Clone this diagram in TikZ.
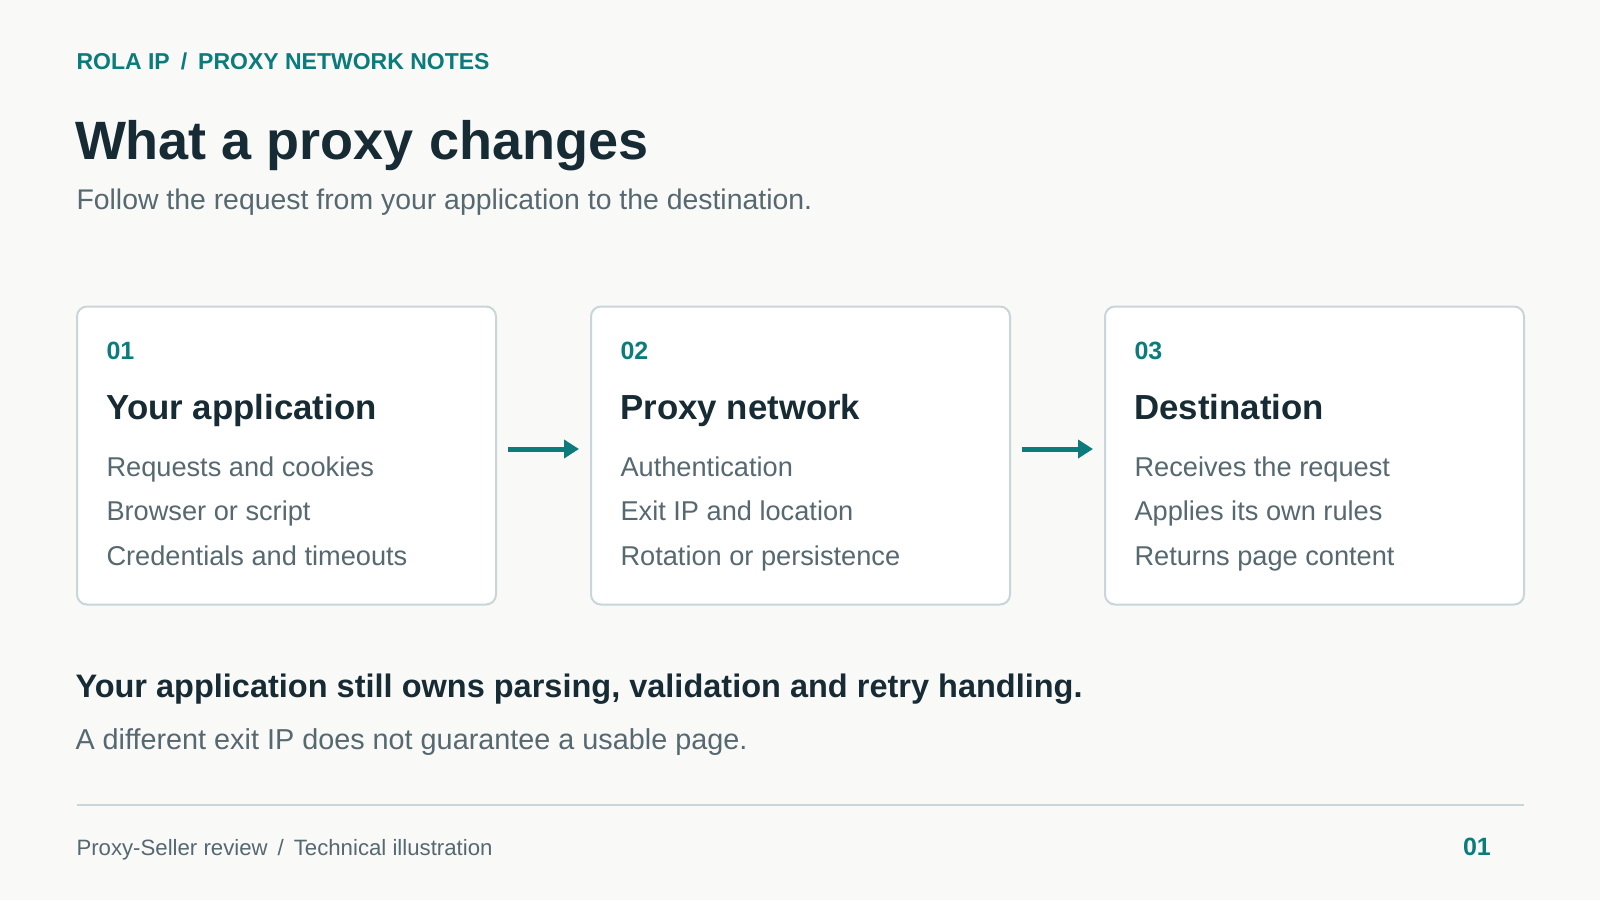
\documentclass[tikz,border=0pt]{standalone}
\usepackage{fontspec}
\setmainfont{Liberation Sans}
\usetikzlibrary{arrows.meta}
\definecolor{bgc}{HTML}{F9F9F7}
\definecolor{teal}{HTML}{0B7B7B}
\definecolor{ink}{HTML}{172B34}
\definecolor{muted}{HTML}{566870}
\definecolor{rule}{HTML}{C9D6D9}
\newcommand{\fs}[1]{\fontsize{#1}{#1}\selectfont}
\tikzset{
  txt/.style={anchor=base west, inner sep=0pt, outer sep=0pt},
  card/.style={draw=rule, line width=2pt, fill=white, rounded corners=10pt,
    minimum width=419pt, minimum height=298pt, inner sep=0pt},
  num/.style={txt, text=teal, font=\fs{25}\bfseries},
  head/.style={txt, text=ink, font=\fs{34.8}\bfseries},
  item/.style={txt, text=muted, font=\fs{27.2}},
  flow/.style={draw=teal, line width=5pt, -{Triangle[length=15pt,width=18pt]}},
}
\begin{document}
\begin{tikzpicture}[x=1pt,y=-1pt]
\fill[bgc] (0,0) rectangle (1600,900);
\useasboundingbox (0,0) rectangle (1600,900);

\node[txt, text=teal, font=\fs{23}\bfseries] (kicker) at (76.5,69) {ROLA IP\hspace{11pt}/\hspace{11pt}PROXY NETWORK NOTES};
\node[txt, text=ink, font=\fs{54}\bfseries] (title) at (75,159) {What a proxy changes};
\node[txt, text=muted, font=\fs{28.4}] (sub) at (76.5,209.5) {Follow the request from your application to the destination.};

\node[card] (box1) at (286.5,455.5) {};
\node[card] (box2) at (800.5,455.5) {};
\node[card] (box3) at (1314.5,455.5) {};

\node[num] (n1) at (106.5,359) {01};
\node[head] (h1) at (106.5,419) {Your application};
\node[item] (a1) at (106.5,476) {Requests and cookies};
\node[item] (b1) at (106.5,520) {Browser or script};
\node[item] (c1) at (106.5,565) {Credentials and timeouts};

\node[num] (n2) at (620.5,359) {02};
\node[head] (h2) at (620.5,419) {Proxy network};
\node[item] (a2) at (620.5,476) {Authentication};
\node[item] (b2) at (620.5,520) {Exit IP and location};
\node[item] (c2) at (620.5,565) {Rotation or persistence};

\node[num] (n3) at (1134.5,359) {03};
\node[head] (h3) at (1134.5,419) {Destination};
\node[item] (a3) at (1134.5,476) {Receives the request};
\node[item] (b3) at (1134.5,520) {Applies its own rules};
\node[item] (c3) at (1134.5,565) {Returns page content};

\draw[flow] ([xshift=11pt,yshift=6.5pt]box1.east) -- ([xshift=-11pt,yshift=6.5pt]box2.west);
\draw[flow] ([xshift=11pt,yshift=6.5pt]box2.east) -- ([xshift=-11pt,yshift=6.5pt]box3.west);

\node[txt, text=ink, font=\fs{32.5}\bfseries] (note) at (75.5,697) {Your application still owns parsing, validation and retry handling.};
\node[txt, text=muted, font=\fs{28.8}] (note2) at (75.5,749) {A different exit IP does not guarantee a usable page.};

\coordinate (ruleL) at (76.5,805);
\coordinate (ruleR) at (1524,805);
\draw[rule, line width=2pt] (ruleL) -- (ruleR);

\node[txt, text=muted, font=\fs{22.2}] (foot) at (76.5,855) {Proxy-Seller review\hspace{10pt}/\hspace{10pt}Technical illustration};
\node[anchor=base east, inner sep=0pt, text=teal, font=\fs{25}\bfseries] (page) at (1491,855) {01};
\end{tikzpicture}
\end{document}
